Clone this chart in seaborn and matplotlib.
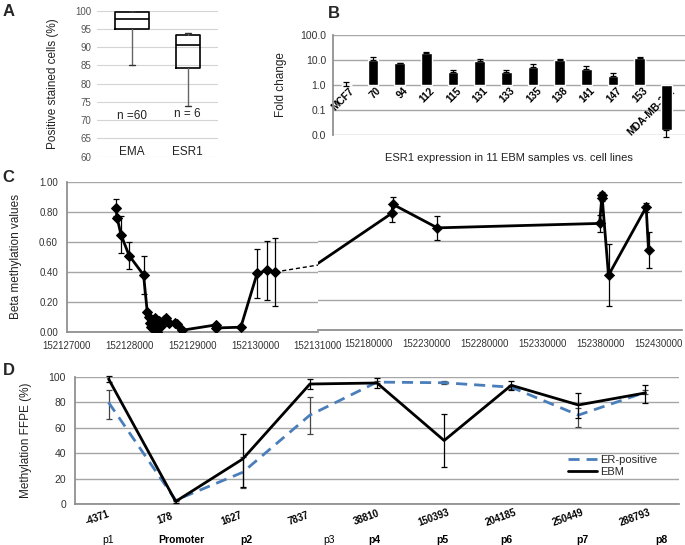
import numpy as np
import pandas as pd
import matplotlib
matplotlib.use("Agg")
import matplotlib.pyplot as plt
import seaborn as sns

# ---- Panel A: box summaries (% positive stained cells)
box_groups = ["EMA", "ESR1"]
box_whislo = [85.0, 74.0]
box_q1 = [95.1, 84.2]
box_med = [97.6, 90.5]
box_q3 = [99.5, 93.4]
box_whishi = [99.9, 93.8]
box_n_text = ["n =60", "n = 6"]
box_n_y = [71.2, 71.8]

# ---- Panel B: ESR1 fold change
fold_labels = ["MCF7", "70", "94", "112", "115", "131", "133", "135",
               "138", "141", "147", "153", "MDA-MB-231"]
fold_values = [1.0, 10.0, 7.4, 18.5, 3.2, 9.4, 3.2, 5.4, 10.0, 4.4, 2.15, 12.4, 0.015]
fold_hi = [1.24, 13.5, 7.5, 21.5, 4.0, 10.7, 4.0, 6.9, 10.6, 5.8, 2.9, 13.0, 0.015]
fold_lo = [0.86, 10.0, 7.4, 18.5, 3.2, 9.4, 3.2, 5.4, 10.0, 4.4, 2.15, 12.4, 0.0081]
fold_ticks = [0.01, 0.1, 1, 10, 100]
fold_tick_labels = ["0.0", "0.1", "1.0", "10.0", "100.0"]

# ---- Panel C: beta methylation along chromosome position
c_left_pos = [152127780, 152127800, 152127860, 152127990, 152128220, 152128280,
              152128300, 152128320, 152128340, 152128360, 152128380, 152128400,
              152128420, 152128440, 152128460, 152128500, 152128540, 152128580,
              152128620, 152128720, 152128760, 152128840, 152129370, 152129380,
              152129770, 152130030, 152130180, 152130320]
c_left_beta = [0.83, 0.76, 0.65, 0.51, 0.38, 0.13, 0.10, 0.06, 0.03, 0.08, 0.02, 0.09,
               0.05, 0.00, 0.07, 0.04, 0.08, 0.09, 0.06, 0.06, 0.05, 0.01, 0.045, 0.025,
               0.03, 0.39, 0.41, 0.40]
c_left_err = [0.055, 0.0, 0.125, 0.09, 0.125, 0, 0, 0, 0, 0, 0, 0,
              0, 0, 0, 0, 0, 0, 0, 0, 0, 0, 0, 0, 0, 0.165, 0.20, 0.225]
c_gap_pos = [152130320, 152131000]
c_gap_beta = [0.40, 0.446]
c_right_pos = [152136560, 152200500, 152200900, 152239500, 152379400, 152381500,
               152381700, 152387100, 152419600, 152421600]
c_right_beta = [0.45, 0.79, 0.85, 0.69, 0.72, 0.91, 0.89, 0.37, 0.83, 0.54]
c_right_err = [0, 0.06, 0.05, 0.08, 0.06, 0.02, 0.02, 0.21, 0.03, 0.12]
c_left_ticks = [152127000, 152128000, 152129000, 152130000, 152131000]
c_right_ticks = [152180000, 152230000, 152280000, 152330000, 152380000, 152430000]

# ---- Panel D: methylation FFPE (%)
d_coord = ["-4371", "178", "1627", "7837", "38810", "150393", "204185", "250449", "288793"]
d_region = ["p1", "Promoter", "p2", "p3", "p4", "p5", "p6", "p7", "p8"]
ebm_mean = [98.5, 2.0, 35.5, 94.5, 95.3, 50.0, 93.5, 78.0, 87.5]
ebm_lo = [96.0, 1.0, 13.6, 90.5, 91.0, 29.3, 89.5, 68.0, 79.8]
ebm_hi = [100.5, 3.0, 55.5, 98.5, 99.5, 71.2, 96.6, 87.7, 94.0]
erpos_mean = [80.0, 3.0, 25.0, 70.0, 96.0, 95.5, 92.0, 70.0, 88.0]
erpos_lo = [67.3, 2.0, 12.3, 55.0, 95.0, 94.5, 90.5, 60.7, 86.5]
erpos_hi = [89.5, 4.0, 37.0, 84.3, 97.0, 96.5, 93.5, 76.0, 89.5]

GRID = "#a6a6a6"
SPINE = "#8c8c8c"
TXT = "#333333"

sns.set_theme(style="white")
plt.rcParams["font.family"] = ["Liberation Sans", "DejaVu Sans"]

fig = plt.figure(figsize=(6.85, 5.45), dpi=100)


def style_axis(ax, left_spine=True):
    for s in ["top", "right"]:
        ax.spines[s].set_visible(False)
    ax.spines["left"].set_visible(left_spine)
    ax.spines["left"].set_color(SPINE)
    ax.spines["bottom"].set_color(SPINE)
    ax.yaxis.grid(True, color=GRID, lw=1.0)
    ax.set_axisbelow(True)
    ax.tick_params(colors=TXT, labelsize=7, length=3, width=0.8, color=SPINE)


# ================= A =================
axA = fig.add_axes([0.1416, 0.7125, 0.1766, 0.268])
stats = []
for i, g in enumerate(box_groups):
    stats.append(dict(label=g, whislo=box_whislo[i], q1=box_q1[i], med=box_med[i],
                      q3=box_q3[i], whishi=box_whishi[i], fliers=[]))
axA.bxp(stats, positions=[0, 1], widths=[0.6, 0.43], capwidths=[0.1, 0.1],
        showfliers=False, patch_artist=False,
        boxprops=dict(color="black", lw=1.2),
        medianprops=dict(color="black", lw=1.2),
        whiskerprops=dict(color="#666666", lw=1.0),
        capprops=dict(color="#333333", lw=1.0))
axA.set_xlim(-0.62, 1.54)
axA.set_ylim(60, 100)
axA.set_yticks(np.arange(60, 101, 5))
axA.set_xticks([])
for s in axA.spines.values():
    s.set_visible(False)
axA.yaxis.grid(True, color="#d4d4d4", lw=0.8)
axA.set_axisbelow(True)
axA.tick_params(axis="y", colors="#555555", labelsize=7, length=0, pad=4)
for i, g in enumerate(box_groups):
    axA.text(i, 61.4, g, ha="center", va="center", fontsize=8.5, color="#222222")
    axA.text(i, box_n_y[i], box_n_text[i], ha="center", va="center", fontsize=8.5,
             color="#222222")
axA.set_ylabel("Positive stained cells (%)", fontsize=8.5, color="#222222")
axA.yaxis.set_label_coords(-0.31, 0.5)

# ================= B =================
axB = fig.add_axes([0.486, 0.7532, 0.514, 0.1826])
style_axis(axB)
axB.spines["bottom"].set_visible(False)
axB.set_yscale("log")
xb = np.arange(len(fold_labels))
vals = np.array(fold_values)
axB.bar(xb, vals - 1, bottom=1, width=0.4, color="black", zorder=3)
yerr = [vals - np.array(fold_lo), np.array(fold_hi) - vals]
axB.errorbar(xb, vals, yerr=yerr, fmt="none", ecolor="black", elinewidth=0.9,
             capsize=2.5, capthick=0.9, zorder=4, clip_on=False)
axB.set_ylim(0.01, 100)
axB.set_xlim(-0.5, 12.7)
axB.set_yticks(fold_ticks)
axB.set_yticklabels(fold_tick_labels)
axB.yaxis.set_minor_locator(matplotlib.ticker.NullLocator())
axB.set_xticks([])
axB.tick_params(axis="y", labelsize=7.5, length=0, pad=5)
for i, lab in enumerate(fold_labels):
    axB.text(i + 0.12, 0.9, lab, rotation=45, rotation_mode="anchor", ha="right",
             va="top", fontsize=7.3, fontweight="bold", color="black", zorder=2)
axB.set_ylabel("Fold change", fontsize=8.5, color="#222222")
axB.yaxis.set_label_coords(-0.13, 0.5)
axB.text(0.5, -0.236, "ESR1 expression in 11 EBM samples vs. cell lines",
         transform=axB.transAxes, ha="center", va="center", fontsize=8, color="#222222")

# ================= C =================
axC1 = fig.add_axes([0.0978, 0.3914, 0.3664, 0.2741])
axC2 = fig.add_axes([0.4642, 0.3945, 0.5314, 0.2716])
style_axis(axC1)
style_axis(axC2, left_spine=False)

dfl = pd.DataFrame({"pos": c_left_pos, "beta": c_left_beta, "err": c_left_err})
dfr = pd.DataFrame({"pos": c_right_pos, "beta": c_right_beta, "err": c_right_err})

sns.lineplot(data=dfl, x="pos", y="beta", ax=axC1, color="black", lw=2,
             estimator=None, sort=False, marker="D", markersize=5,
             markeredgecolor="black", zorder=3)
sns.lineplot(x=c_gap_pos, y=c_gap_beta, ax=axC1, color="black", lw=1,
             linestyle=(0, (3, 2)), estimator=None, sort=False)
axC1.errorbar(dfl["pos"], dfl["beta"], yerr=dfl["err"], fmt="none", ecolor="black",
              elinewidth=0.9, capsize=2.5, capthick=0.9, zorder=4)
axC1.set_xlim(152127000, 152131000)
axC1.set_ylim(0, 1)
axC1.set_xticks(c_left_ticks)
axC1.set_xticklabels([str(t) for t in c_left_ticks])
axC1.set_yticks(np.arange(0, 1.01, 0.2))
axC1.set_yticklabels([f"{v:.2f}" for v in np.arange(0, 1.01, 0.2)])
axC1.set_xlabel("")
axC1.set_ylabel("Beta methylation values", fontsize=8.5, color="#222222")
axC1.yaxis.set_label_coords(-0.18, 0.5)

sns.lineplot(data=dfr, x="pos", y="beta", ax=axC2, color="black", lw=2,
             estimator=None, sort=False, zorder=3)
sns.scatterplot(data=dfr.iloc[1:], x="pos", y="beta", ax=axC2, color="black",
                marker="D", s=28, edgecolor="black", zorder=3)
axC2.errorbar(dfr["pos"][1:], dfr["beta"][1:], yerr=dfr["err"][1:], fmt="none",
              ecolor="black", elinewidth=0.9, capsize=2.5, capthick=0.9, zorder=4)
axC2.set_xlim(152136560, 152450470)
axC2.set_ylim(0, 1)
axC2.set_xticks(c_right_ticks)
axC2.set_xticklabels([str(t) for t in c_right_ticks])
axC2.set_yticks(np.arange(0, 1.01, 0.2))
axC2.set_yticklabels([])
axC2.tick_params(axis="y", length=0)
axC2.set_xlabel("")
axC2.set_ylabel("")

# ================= D =================
axD = fig.add_axes([0.1095, 0.0752, 0.8818, 0.2330])
style_axis(axD)
xd = np.arange(len(d_region))
sns.lineplot(x=xd, y=erpos_mean, ax=axD, color="#4a7ebb", lw=2,
             linestyle=(0, (4, 2.5)), label="ER-positive", zorder=3)
sns.lineplot(x=xd, y=ebm_mean, ax=axD, color="black", lw=2, label="EBM", zorder=4)
er_m = np.array(erpos_mean)
axD.errorbar(xd, er_m, yerr=[er_m - np.array(erpos_lo), np.array(erpos_hi) - er_m],
             fmt="none", ecolor="#444444", elinewidth=0.9, capsize=2.5, capthick=0.9,
             zorder=2)
eb_m = np.array(ebm_mean)
axD.errorbar(xd, eb_m, yerr=[eb_m - np.array(ebm_lo), np.array(ebm_hi) - eb_m],
             fmt="none", ecolor="black", elinewidth=0.9, capsize=2.5, capthick=0.9,
             zorder=5, clip_on=False)
axD.set_xlim(-0.5, 8.5)
axD.set_ylim(0, 100)
axD.set_yticks(np.arange(0, 101, 20))
axD.tick_params(axis="y", labelsize=7.5)
axD.set_xticks(np.arange(-0.5, 9, 1))
axD.set_xticklabels([])
axD.set_ylabel("Methylation FFPE (%)", fontsize=8.5, color="#222222")
axD.yaxis.set_label_coords(-0.071, 0.5)

region_nudge = [0.0, 0.09, 0.06, 0.29, -0.04, -0.03, -0.08, 0.06, 0.24]
trans = matplotlib.transforms.blended_transform_factory(axD.transData, axD.transAxes)
for i in xd:
    axD.text(i - 0.16, -0.11, d_coord[i], rotation=20, ha="center", va="center",
             fontsize=7, fontweight="bold", color="black", transform=trans)
    bold = "normal" if d_region[i] in ("p1", "p3") else "bold"
    axD.text(i + region_nudge[i], -0.285, d_region[i], ha="center", va="center",
             fontsize=7.5, fontweight=bold, color="black", transform=trans)

leg = axD.legend(loc="center left", bbox_to_anchor=(0.80, 0.30), frameon=False,
                 fontsize=8, handlelength=2.6, labelspacing=0.15, handletextpad=0.3)

# panel letters
for lab, x, y in [("A", 0.004, 0.978), ("B", 0.478, 0.976), ("C", 0.004, 0.675),
                  ("D", 0.004, 0.321)]:
    fig.text(x, y, lab, fontsize=12, fontweight="bold", va="center", ha="left")

fig.savefig("out.png", dpi=100)
